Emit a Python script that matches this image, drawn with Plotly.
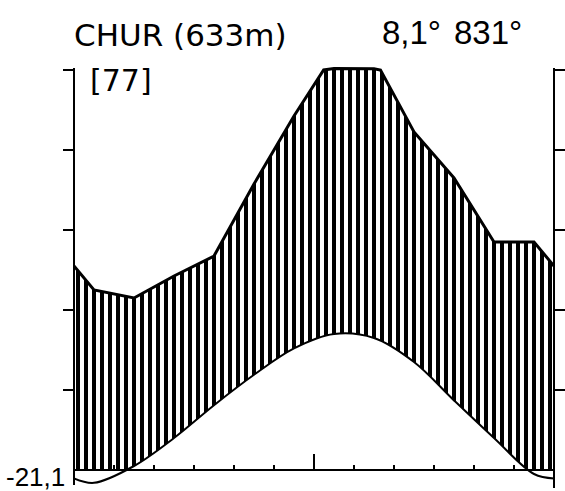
import plotly.graph_objects as go
import numpy as np

# ---- data (Chur, 633 m) ----
months = ["Jan", "Feb", "Mar", "Apr", "May", "Jun", "Jul", "Aug", "Sep", "Oct", "Nov", "Dec"]
temp_c = [-1.6, 0.5, 4.0, 8.1, 11.9, 15.2, 17.0, 16.5, 13.5, 8.7, 4.0, -0.5]
precip_mm = [45, 43, 48.5, 53.5, 71.5, 88.5, 104, 103, 84.5, 73, 57, 57]
station = "CHUR (633m)"
years_label = "[77]"
mean_temp_label = "8,1°"
annual_precip_label = "831°"
abs_min_label = "-21,1"
tick_mm = [20, 40, 60, 80, 100]

# ---- helpers ----
centers = list(np.arange(12) + 0.5)
def extend(vals):
    edge = (vals[0] + vals[-1]) / 2.0
    return [0.0] + centers + [12.0], [edge] + list(vals) + [edge]

def insert_crossings(xs, ys, level):
    ox, oy = [xs[0]], [ys[0]]
    for i in range(1, len(xs)):
        y0, y1 = ys[i - 1], ys[i]
        if (y0 - level) * (y1 - level) < 0:
            t = (level - y0) / (y1 - y0)
            ox.append(xs[i - 1] + t * (xs[i] - xs[i - 1]))
            oy.append(level)
        ox.append(xs[i]); oy.append(ys[i])
    return ox, oy

# temperature in precipitation units (10 °C = 20 mm)
tx, ty = extend([2 * t for t in temp_c])
# lower limit of humid hatching: temperature curve, never below 0
lx, ly = insert_crossings(tx, ty, 0.0)
ly = [max(v, 0.0) for v in ly]
# precipitation, compressed above 100 mm (1/10 scale)
px_, py_ = extend(precip_mm)
px_, py_ = insert_crossings(px_, py_, 100.0)
py_ = [v if v <= 100 else 100 + (v - 100) / 10.0 for v in py_]

YMIN, YMAX = -5.0, 102.0
FONT = "DejaVu Sans"
NARROW = "Liberation Sans"

fig = go.Figure()
fig.add_trace(go.Scatter(x=lx, y=ly, mode="lines", line=dict(width=0, color="black", shape="spline"),
                         showlegend=False, hoverinfo="skip"))
fig.add_trace(go.Scatter(x=px_, y=py_, mode="lines", fill="tonexty", fillcolor="black",
                         fillpattern=dict(shape="|", size=8, solidity=0.5, fgcolor="black",
                                          bgcolor="white", fgopacity=1, fillmode="replace"),
                         line=dict(width=3, color="black"), showlegend=False, hoverinfo="skip"))
fig.add_trace(go.Scatter(x=tx, y=ty, mode="lines", line=dict(width=2, color="black", shape="spline"),
                         showlegend=False, hoverinfo="skip"))
fig.add_trace(go.Scatter(x=[0, 12], y=[None, None], yaxis="y2", mode="lines", showlegend=False, hoverinfo="skip"))

# axis lines
fig.add_shape(type="line", xref="paper", yref="y", x0=0, x1=0, y0=-3.75, y1=100.5, line=dict(color="black", width=2))
fig.add_shape(type="line", xref="paper", yref="y", x0=1, x1=1, y0=-4.5, y1=100.5, line=dict(color="black", width=2))
fig.add_shape(type="line", xref="x", yref="y", x0=6, x1=6, y0=0, y1=4, line=dict(color="black", width=2))

fig.update_layout(
    width=565, height=491,
    margin=dict(l=74, r=7, t=62, b=1),
    paper_bgcolor="white", plot_bgcolor="white",
    xaxis=dict(range=[0, 12], showgrid=False, zeroline=False, showticklabels=False,
               ticks="inside", tickvals=list(range(1, 12)), ticklen=4, tickwidth=2, tickcolor="black",
               showline=True, linecolor="black", linewidth=2,
               anchor="free", position=(0 - YMIN) / (YMAX - YMIN)),
    yaxis=dict(range=[YMIN, YMAX], showgrid=False, zeroline=False, showticklabels=False,
               ticks="outside", tickvals=tick_mm, ticklen=10, tickwidth=2, tickcolor="black", showline=False),
    yaxis2=dict(range=[YMIN, YMAX], overlaying="y", side="right", showgrid=False, zeroline=False,
                showticklabels=False, ticks="outside", tickvals=tick_mm, ticklen=10, tickwidth=2,
                tickcolor="black", showline=False),
)

def pxx(p): return (p - 74) / 484.0
def pxy(p): return (490 - p) / 428.0

def label(text, x, y, size, anchor="left", family=FONT):
    fig.add_annotation(text=text, xref="paper", yref="paper", x=pxx(x), y=pxy(y),
                       xanchor=anchor, yanchor="middle", showarrow=False,
                       font=dict(family=family, size=size, color="black"))

label(station, 72, 35, 31)
label(years_label, 88, 81, 30)
label(mean_temp_label, 383, 32, 33, family=NARROW)
label(annual_precip_label, 455, 32, 33, family=NARROW)
label(abs_min_label, 67, 477, 26, anchor="right", family=NARROW)

fig.write_html("out.html")
